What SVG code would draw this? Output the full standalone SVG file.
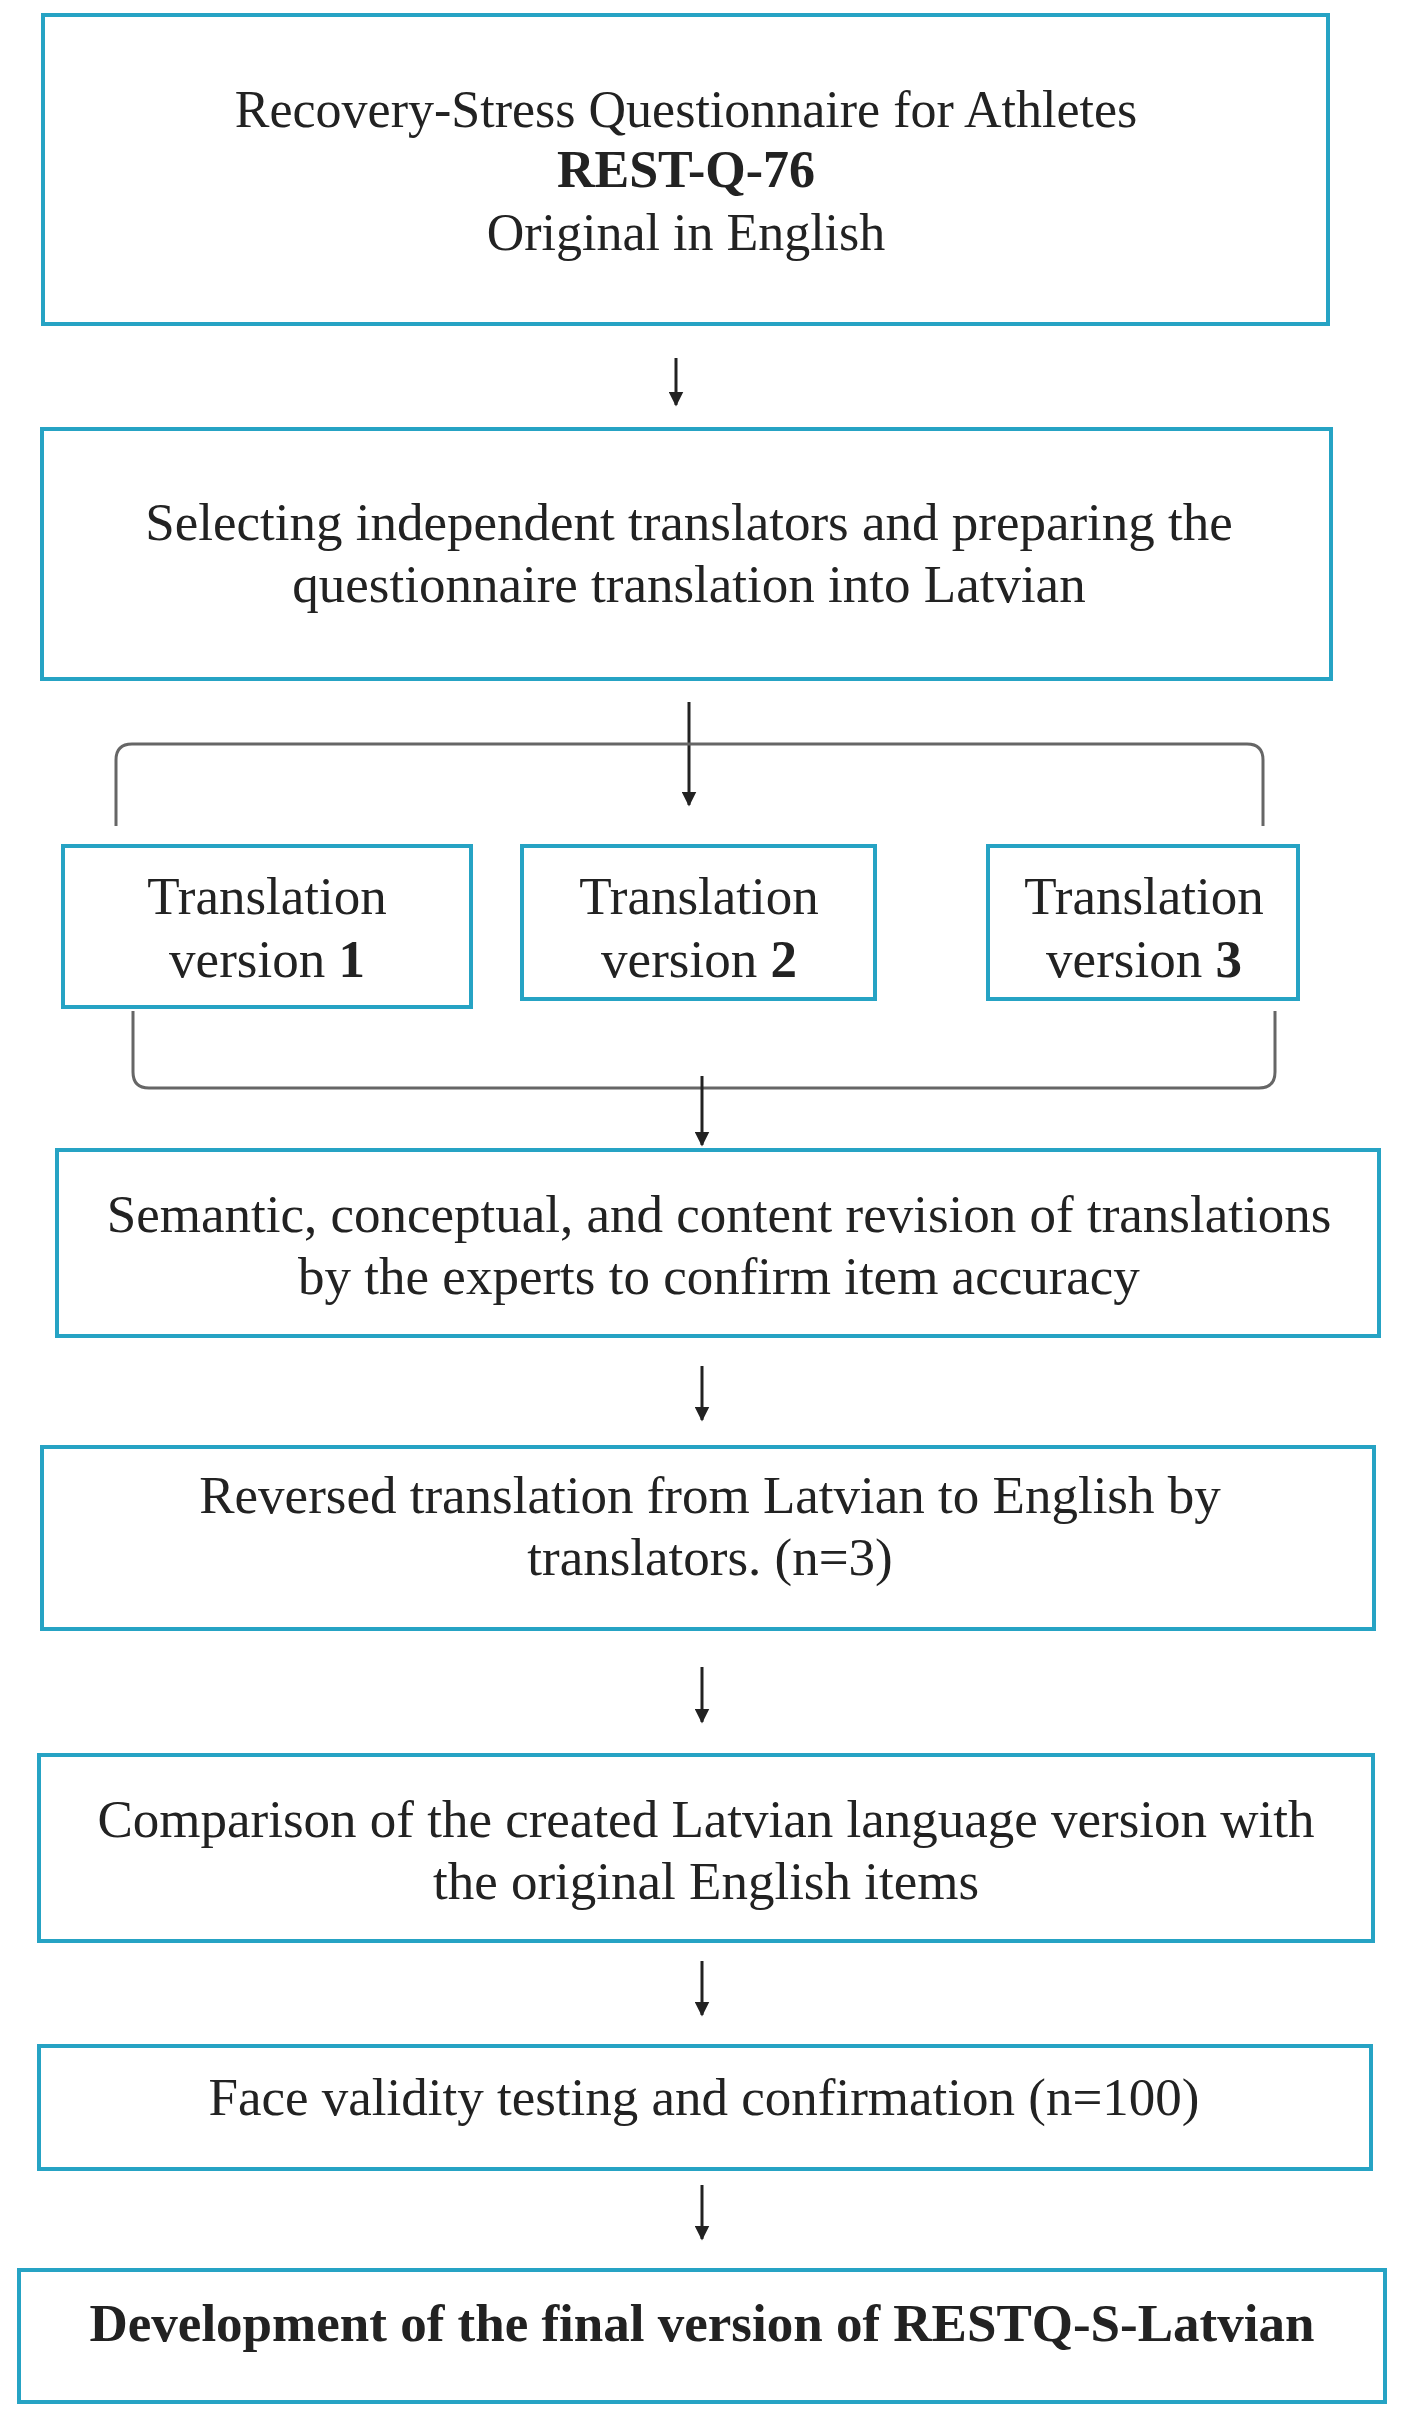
<svg xmlns="http://www.w3.org/2000/svg" width="1408" height="2424" viewBox="0 0 1408 2424">
<style>
.b{fill:#fff;stroke:#26a3c4;stroke-width:4}
text{font-family:"Liberation Serif","Times New Roman",serif;font-size:53px;fill:#222;text-anchor:middle}
.s{font-size:52px}
.bd{font-weight:bold}
.c{stroke:#222;stroke-width:3;fill:none}
.br{stroke:#666;stroke-width:3;fill:none}
</style>
<defs><marker id="a" viewBox="0 0 10 10" refX="9" refY="5" markerWidth="5" markerHeight="5" orient="auto"><path d="M0,0L10,5L0,10z" fill="#222"/></marker></defs>
<rect width="1408" height="2424" fill="#fff"/>
<g id="connectors">
<line class="c" x1="676" y1="358" x2="676" y2="405" marker-end="url(#a)"/>
<line class="c" x1="689" y1="702" x2="689" y2="805" marker-end="url(#a)"/>
<path class="br" d="M116,826 V760 Q116,744 132,744 H1247 Q1263,744 1263,760 V826"/>
<path class="br" d="M133,1011 V1072 Q133,1088 149,1088 H1259 Q1275,1088 1275,1072 V1011"/>
<line class="c" x1="702" y1="1076" x2="702" y2="1145" marker-end="url(#a)"/>
<line class="c" x1="702" y1="1366" x2="702" y2="1420" marker-end="url(#a)"/>
<line class="c" x1="702" y1="1667" x2="702" y2="1722" marker-end="url(#a)"/>
<line class="c" x1="702" y1="1961" x2="702" y2="2015" marker-end="url(#a)"/>
<line class="c" x1="702" y1="2185" x2="702" y2="2239" marker-end="url(#a)"/>
</g>
<g id="n1"><rect class="b" x="43" y="15" width="1285" height="309"/>
<text class="s" x="686" y="127">Recovery-Stress Questionnaire for Athletes</text>
<text class="s bd" x="686" y="187">REST-Q-76</text>
<text class="s" x="686" y="250">Original in English</text></g>
<g id="n2"><rect class="b" x="42" y="429" width="1289" height="250"/>
<text x="689" y="540">Selecting independent translators and preparing the</text>
<text x="689" y="602">questionnaire translation into Latvian</text></g>
<g id="t1"><rect class="b" x="63" y="846" width="408" height="161"/>
<text x="267" y="914">Translation</text><text x="267" y="977">version <tspan class="bd">1</tspan></text></g>
<g id="t2"><rect class="b" x="522" y="846" width="353" height="153"/>
<text x="699" y="914">Translation</text><text x="699" y="977">version <tspan class="bd">2</tspan></text></g>
<g id="t3"><rect class="b" x="988" y="846" width="310" height="153"/>
<text x="1144" y="914">Translation</text><text x="1144" y="977">version <tspan class="bd">3</tspan></text></g>
<g id="n4"><rect class="b" x="57" y="1150" width="1322" height="186"/>
<text x="719" y="1232">Semantic, conceptual, and content revision of translations</text>
<text x="719" y="1294">by the experts to confirm item accuracy</text></g>
<g id="n5"><rect class="b" x="42" y="1447" width="1332" height="182"/>
<text x="710" y="1513">Reversed translation from Latvian to English by</text>
<text x="710" y="1575">translators. (n=3)</text></g>
<g id="n6"><rect class="b" x="39" y="1755" width="1334" height="186"/>
<text x="706" y="1837">Comparison of the created Latvian language version with</text>
<text x="706" y="1899">the original English items</text></g>
<g id="n7"><rect class="b" x="39" y="2046" width="1332" height="123"/>
<text x="704" y="2115">Face validity testing and confirmation (n=100)</text></g>
<g id="n8"><rect class="b" x="19" y="2270" width="1366" height="132"/>
<text class="bd" x="702" y="2341">Development of the final version of RESTQ-S-Latvian</text></g>
</svg>
